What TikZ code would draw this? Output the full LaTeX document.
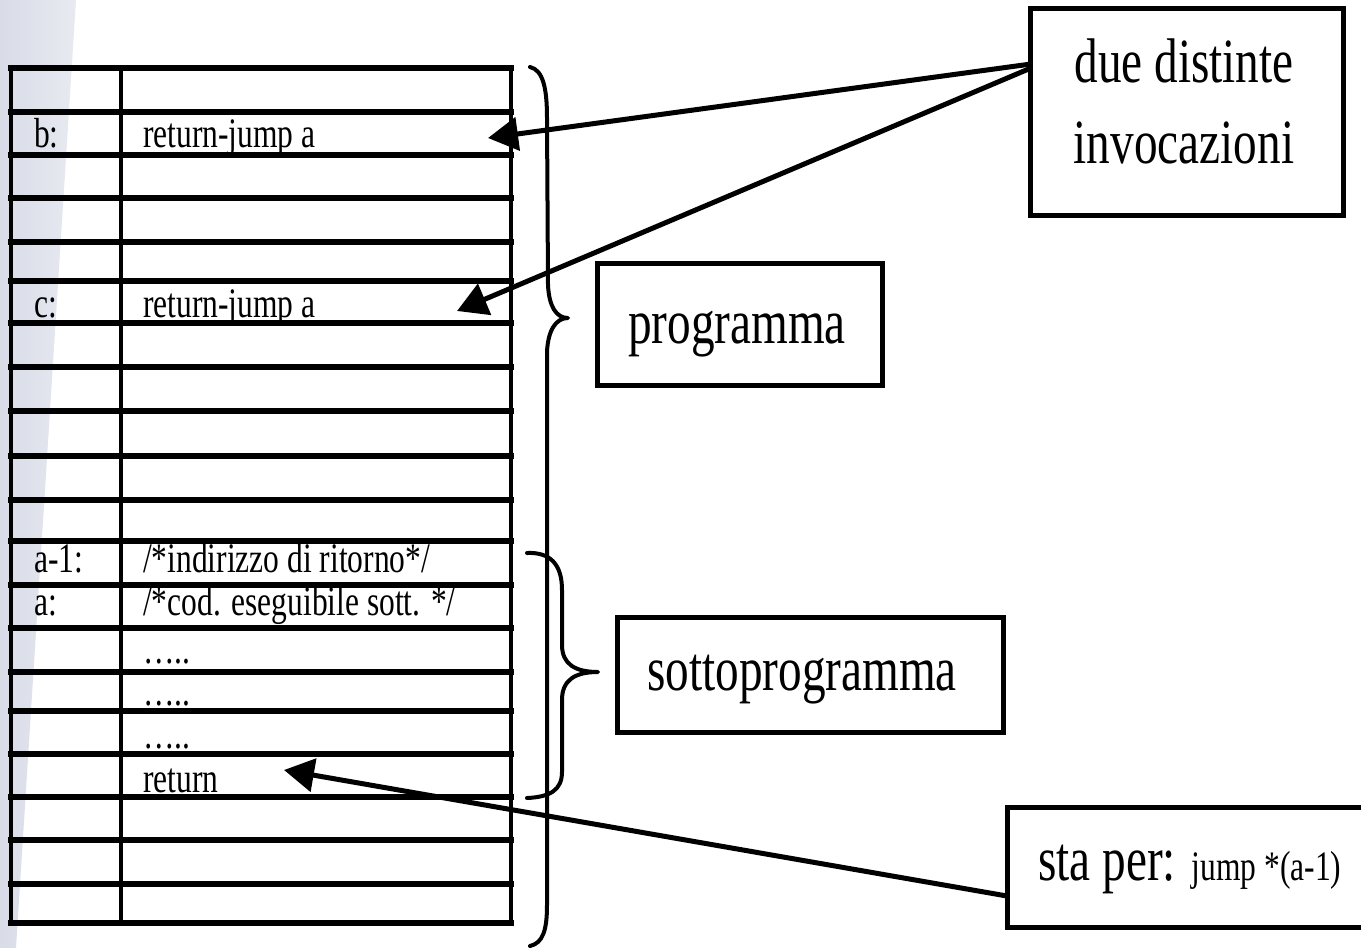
\documentclass[tikz,border=0pt]{standalone}
\usepackage{fontspec}
\setmainfont{Liberation Serif}[FakeStretch=0.75]
\usetikzlibrary{arrows.meta}

\definecolor{bandL}{HTML}{D8DCE7}
\definecolor{bandR}{HTML}{E8EAF1}

\newcommand\cellsize{\fontsize{42}{50}\selectfont}
\newcommand\labelsize{\fontsize{63}{81}\selectfont}

\tikzset{
  rule/.style={line width=5.5pt, line cap=rect},
  vrule/.style={line width=4.5pt},
  cell/.style={font=\cellsize, inner sep=0pt, anchor=base west},
  labeltext/.style={font=\labelsize, inner sep=0pt, anchor=base},
  labelbox/.style={draw, line width=5pt, fill=white, inner sep=0pt},
  brace/.style={line width=4pt, line cap=round, line join=round},
  pointer/.style={line width=5pt, -{Triangle[length=30pt, width=33pt]}},
}

\begin{document}
\begin{tikzpicture}[x=1pt, y=-1pt]
\useasboundingbox (0,0) rectangle (1361,948);
\clip (0,0) rectangle (1361,948);

% slanted band along the left margin
\shade[left color=bandL, right color=bandR]
  (0,0) -- (76,0) -- (16,948) -- (0,948) -- cycle;

% memory table: horizontal rules
\foreach \y in {68,112,155,198,242,281,323,367,411,456,500,541,585,628,672,711,754,797,840,884,923}
  \draw[rule] (11,\y) -- (511,\y);
% memory table: vertical rules
\draw[vrule] (11,66) -- (11,925);
\draw[vrule] (121,66) -- (121,925);
\draw[vrule] (511,66) -- (511,925);

% cell contents
\node[cell] (lb)  at (34,147) {b:};
\node[cell] (ib)  at (143,147) {return-jump a};
\node[cell] (lc)  at (34,317) {c:};
\node[cell] (ic)  at (143,317) {return-jump a};
\node[cell] (la1) at (34,572) {a-1:};
\node[cell] (ia1) at (143,572) {/*indirizzo di ritorno*/};
\node[cell] (la)  at (34,615) {a:};
\node[cell] (ia)  at (143,615) {/*cod. eseguibile sott. */};
\node[cell] (d1)  at (143,663) {…..};
\node[cell] (d2)  at (143,705) {…..};
\node[cell] (d3)  at (143,748) {…..};
\node[cell] (ret) at (143,792) {return};

% brace over the whole program
\draw[brace] (530,67) .. controls (543,70) and (547,88) .. (547,118)
  -- (548,285) .. controls (549,306) and (556,318) .. (568,318)
  .. controls (556,318) and (548,330) .. (547,352)
  -- (547,905) .. controls (547,930) and (543,943) .. (530,946);

% brace over the subprogram
\draw[brace] (527,553) .. controls (550,552) and (562,564) .. (562,590)
  -- (562,645) .. controls (562,664) and (575,672) .. (598,672)
  .. controls (575,672) and (562,680) .. (562,700)
  -- (562,772) .. controls (562,790) and (550,797) .. (527,798);

% caption boxes
\node[labelbox, minimum width=313pt, minimum height=207pt] (due) at (1186.5,111.5) {};
\node[labeltext] (due1) at (1184,82) {due distinte};
\node[labeltext] (due2) at (1184,163) {invocazioni};

\node[labelbox, minimum width=285pt, minimum height=122pt] (prog) at (739.5,324) {};
\node[labeltext] (progt) at (737,343) {programma};

\node[labelbox, minimum width=386pt, minimum height=115pt] (sotto) at (810,674.5) {};
\node[labeltext] (sottot) at (802,690) {sottoprogramma};

\node[labelbox, minimum width=420pt, minimum height=120pt] (sta) at (1217,867) {};
\node[labeltext, anchor=base west] (stat) at (1038,880) {sta per: {\cellsize jump *(a-1)}};

% connector end points
\coordinate (s1) at (1031,64);
\coordinate (s2) at (1031,68);
\coordinate (s3) at (1007,896);
\coordinate (tb) at (488,138);
\coordinate (tc) at (457,311);
\coordinate (tr) at (284,770);

% pointers
\draw[pointer] (s1) -- (tb);
\draw[pointer] (s2) -- (tc);
\draw[pointer] (s3) -- (tr);
\end{tikzpicture}
\end{document}
